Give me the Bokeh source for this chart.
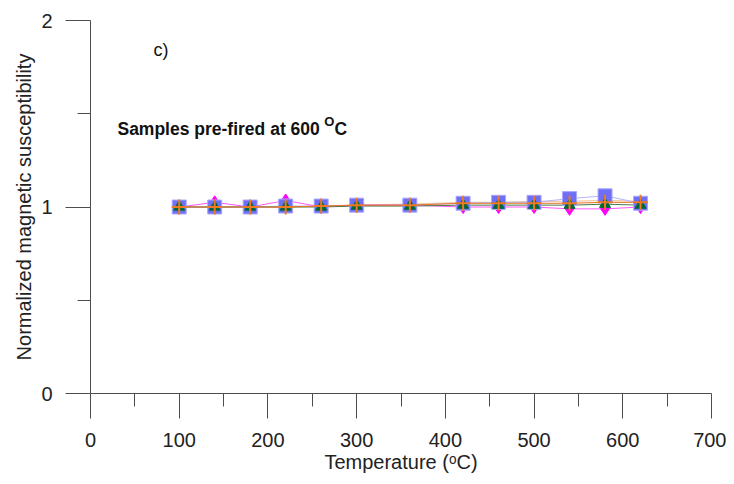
from bokeh.plotting import figure
from bokeh.models import Label, Range1d, FixedTicker
from bokeh.embed import file_html
from bokeh.resources import INLINE

# ---- data ----
temperature = [100, 140, 180, 220, 260, 300, 360, 420, 460, 500, 540, 580, 620]
series_blue = [1.00, 1.00, 1.00, 1.005, 1.005, 1.01, 1.01, 1.02, 1.025, 1.025, 1.045, 1.06, 1.02]
series_green = [1.00, 1.00, 1.00, 1.00, 1.00, 1.005, 1.005, 1.01, 1.01, 1.01, 1.01, 1.015, 1.01]
series_orange = [1.00, 1.00, 1.00, 1.00, 1.005, 1.01, 1.01, 1.02, 1.02, 1.02, 1.02, 1.025, 1.025]
series_magenta = [1.00, 1.025, 1.00, 1.035, 1.00, 1.01, 1.01, 1.00, 1.00, 1.00, 0.99, 0.99, 1.00]
series_tan = [1.00, 1.00, 1.00, 1.00, 1.005, 1.01, 1.015, 1.025, 1.025, 1.03, 1.03, 1.035, 1.03]

x_major = [0, 100, 200, 300, 400, 500, 600, 700]
x_minor = [50, 150, 250, 350, 450, 550, 650]
y_major = [0, 1, 2]
y_minor = [0.5, 1.5]

FONT = "Liberation Sans"

p = figure(width=726, height=476, frame_width=621, frame_height=373,
           min_border_left=90, min_border_right=15, min_border_top=20, min_border_bottom=83,
           x_range=Range1d(0, 700), y_range=Range1d(0, 2),
           output_backend="svg", toolbar_location=None)
p.grid.visible = False
p.outline_line_color = None

for ax, maj, mnr in ((p.xaxis[0], x_major, x_minor), (p.yaxis[0], y_major, y_minor)):
    ax.ticker = FixedTicker(ticks=maj, minor_ticks=mnr)
    ax.axis_line_color = "#4d4d4d"
    ax.major_tick_line_color = "#4d4d4d"
    ax.minor_tick_line_color = "#4d4d4d"
    ax.major_tick_out = 25
    ax.major_tick_in = 0
    ax.minor_tick_out = 13
    ax.minor_tick_in = 0
    ax.major_label_text_font = FONT
    ax.major_label_text_font_size = "20px"
    ax.major_label_text_color = "#222222"
    ax.axis_label_text_font = FONT
    ax.axis_label_text_font_size = "20px"
    ax.axis_label_text_font_style = "normal"
    ax.axis_label_text_color = "#222222"

p.xaxis.axis_label = "Temperature (\u1d52C)"
p.xaxis.major_label_standoff = 14
p.xaxis.axis_label_standoff = 1
p.yaxis.axis_label = "Normalized magnetic susceptibility"
p.yaxis.major_label_standoff = 13
p.yaxis.axis_label_standoff = 3
p.yaxis.major_label_orientation = "horizontal"

# lines
p.line(temperature, series_tan, line_color="#f2c9a6", line_width=1.2)
p.line(temperature, series_blue, line_color="#b4b4ff", line_width=1)
p.line(temperature, series_magenta, line_color="#ff55ff", line_width=1)
p.line(temperature, series_green, line_color="#4c7a4c", line_width=1)
p.line(temperature, series_orange, line_color="#e8731e", line_width=1)

# markers
p.scatter(temperature, series_magenta, marker="diamond", size=13,
          fill_color="#ff00ff", line_color="#ff00ff")
p.scatter(temperature, series_blue, marker="square", size=14,
          fill_color="#6f6ff6", line_color="#a8a8ff", line_width=1)
p.scatter(temperature, series_green, marker="triangle", size=11,
          fill_color="#006837", line_color="#006837")
p.scatter(temperature, series_orange, marker="cross", size=15,
          line_color="#f07820", line_width=2)

# annotations
p.add_layout(Label(x=71, y=1.843, text="c)", text_font=FONT, text_font_size="18px",
                   text_color="#111111", text_baseline="alphabetic"))
p.add_layout(Label(x=30.4, y=1.416, text="Samples pre-fired at 600", text_font=FONT,
                   text_font_size="17.5px", text_font_style="bold", text_color="#111111",
                   text_baseline="alphabetic"))
p.add_layout(Label(x=263.5, y=1.459, text="O", text_font=FONT,
                   text_font_size="13px", text_font_style="bold", text_color="#111111",
                   text_baseline="alphabetic"))
p.add_layout(Label(x=275.0, y=1.416, text="C", text_font=FONT,
                   text_font_size="17.5px", text_font_style="bold", text_color="#111111",
                   text_baseline="alphabetic"))

open("out.html", "w").write(file_html(p, INLINE))
